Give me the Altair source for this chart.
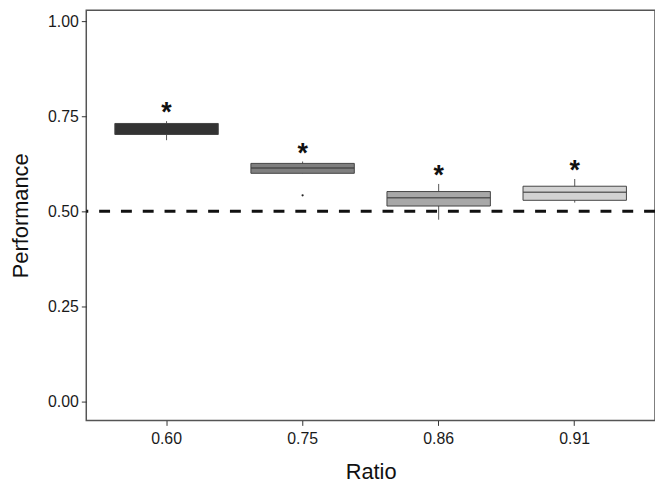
import altair as alt
import pandas as pd

ratios = ["0.60", "0.75", "0.86", "0.91"]
lower = [0.687, 0.600, 0.478, 0.523]
q1 = [0.702, 0.600, 0.514, 0.529]
median = [0.716, 0.614, 0.536, 0.550]
q3 = [0.731, 0.626, 0.552, 0.566]
upper = [0.737, 0.631, 0.572, 0.585]
fills = ["#333333", "#7f7f7f", "#a8a8a8", "#d2d2d2"]
outlier_ratio = ["0.75"]
outlier_value = [0.542]
chance_level = [0.5]

df = pd.DataFrame({"Ratio": ratios, "lower": lower, "q1": q1, "median": median,
                   "q3": q3, "upper": upper, "fill": fills, "star": ["*"] * 4})
out = pd.DataFrame({"Ratio": outlier_ratio, "v": outlier_value})
ref = pd.DataFrame({"y": chance_level})

FONT = "Liberation Sans"
xscale = alt.Scale(domain=ratios, paddingInner=0.24, paddingOuter=0.21)
yscale = alt.Scale(domain=[-0.0495, 1.0286], nice=False, zero=False)

x = alt.X("Ratio:N", scale=xscale, sort=ratios,
          axis=alt.Axis(title="Ratio", labelAngle=0, labelFontSize=16, labelColor="#1a1a1a",
                        titleFontSize=22, titleFontWeight="normal", titleColor="#111",
                        titlePadding=16, labelPadding=5, tickSize=5, tickColor="#333",
                        domain=False, labelFont=FONT, titleFont=FONT))

whisk = alt.Chart(df).mark_rule(color="#555", strokeWidth=1).encode(
    x=x,
    y=alt.Y("lower:Q", scale=yscale,
            axis=alt.Axis(title="Performance", values=[0, 0.25, 0.5, 0.75, 1.0], format=".2f",
                          labelFontSize=16, labelColor="#1a1a1a", titleFontSize=22,
                          titleFontWeight="normal", titleColor="#111", titlePadding=15,
                          tickSize=5, tickColor="#333", domain=False, grid=False,
                          labelPadding=3, labelFont=FONT, titleFont=FONT)),
    y2="upper:Q",
)

box = alt.Chart(df).mark_bar(stroke="#444", strokeWidth=1).encode(
    x=x, y=alt.Y("q1:Q", scale=yscale), y2="q3:Q",
    fill=alt.Fill("fill:N", scale=None),
)

med = alt.Chart(df).mark_tick(color="#333", thickness=1.5, size=104).encode(
    x=x, y=alt.Y("median:Q", scale=yscale),
)

outl = alt.Chart(out).mark_circle(color="#222", size=5, opacity=1).encode(
    x=alt.X("Ratio:N", scale=xscale, sort=ratios), y=alt.Y("v:Q", scale=yscale),
)

stars = alt.Chart(df).mark_text(fontSize=27, fontWeight="bold", font=FONT, color="#111",
                                baseline="alphabetic", dy=0).encode(
    x=x, y=alt.Y("upper:Q", scale=yscale), text="star:N",
)

dash = alt.Chart(ref).mark_rule(color="#111", strokeWidth=3, strokeDash=[11, 11]).encode(
    y=alt.Y("y:Q", scale=yscale),
)

chart = alt.layer(whisk, box, med, outl, dash, stars).properties(
    width=574, height=414,
    autosize=alt.AutoSizeParams(type="none"),
    padding={"left": 79, "top": 0, "right": 0, "bottom": 70},
).configure(background="white").configure_view(stroke="#555", strokeWidth=1.5)

chart.save("out.html", embed_options={"renderer": "svg", "actions": False})
